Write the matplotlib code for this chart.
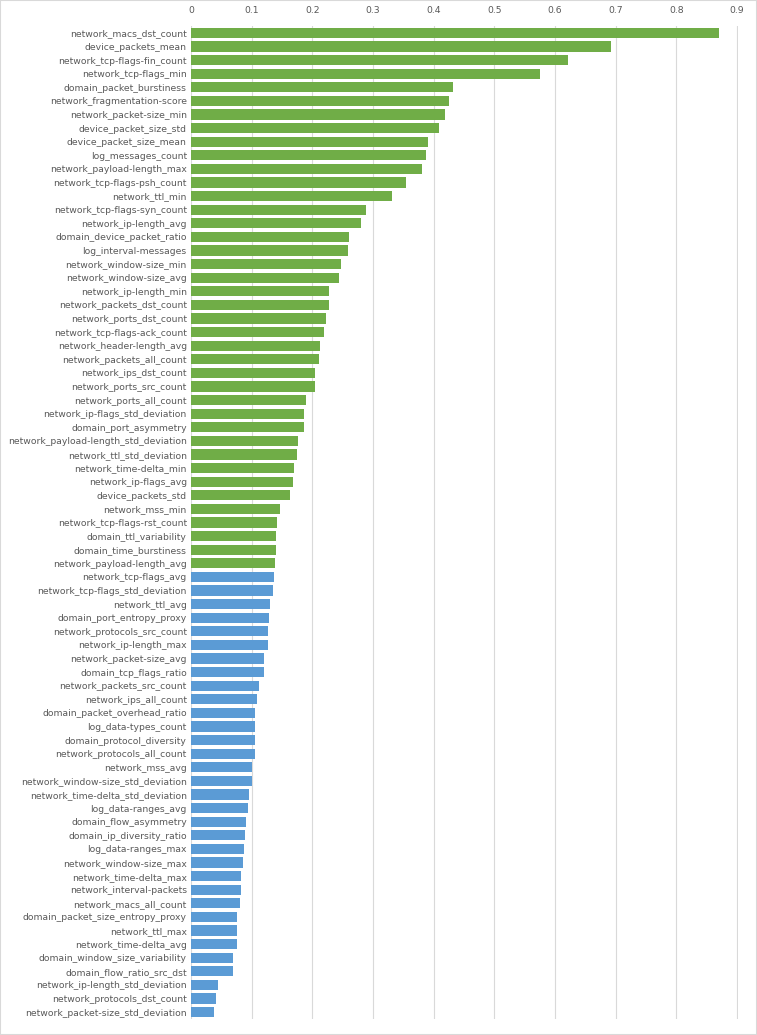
import matplotlib.pyplot as plt

green_labels = [
    "network_macs_dst_count", "device_packets_mean", "network_tcp-flags-fin_count",
    "network_tcp-flags_min", "domain_packet_burstiness", "network_fragmentation-score",
    "network_packet-size_min", "device_packet_size_std", "device_packet_size_mean",
    "log_messages_count", "network_payload-length_max", "network_tcp-flags-psh_count",
    "network_ttl_min", "network_tcp-flags-syn_count", "network_ip-length_avg",
    "domain_device_packet_ratio", "log_interval-messages", "network_window-size_min",
    "network_window-size_avg", "network_ip-length_min", "network_packets_dst_count",
    "network_ports_dst_count", "network_tcp-flags-ack_count", "network_header-length_avg",
    "network_packets_all_count", "network_ips_dst_count", "network_ports_src_count",
    "network_ports_all_count", "network_ip-flags_std_deviation", "domain_port_asymmetry",
    "network_payload-length_std_deviation", "network_ttl_std_deviation",
    "network_time-delta_min", "network_ip-flags_avg", "device_packets_std",
    "network_mss_min", "network_tcp-flags-rst_count", "domain_ttl_variability",
    "domain_time_burstiness", "network_payload-length_avg",
]
green_values = [
    0.870, 0.692, 0.621, 0.575, 0.431, 0.426, 0.418, 0.408, 0.390, 0.387,
    0.381, 0.354, 0.331, 0.289, 0.280, 0.260, 0.259, 0.248, 0.244, 0.228,
    0.228, 0.223, 0.220, 0.213, 0.211, 0.204, 0.204, 0.189, 0.186, 0.186,
    0.176, 0.175, 0.169, 0.168, 0.163, 0.146, 0.142, 0.140, 0.140, 0.139,
]
blue_labels = [
    "network_tcp-flags_avg", "network_tcp-flags_std_deviation", "network_ttl_avg",
    "domain_port_entropy_proxy", "network_protocols_src_count", "network_ip-length_max",
    "network_packet-size_avg", "domain_tcp_flags_ratio", "network_packets_src_count",
    "network_ips_all_count", "domain_packet_overhead_ratio", "log_data-types_count",
    "domain_protocol_diversity", "network_protocols_all_count", "network_mss_avg",
    "network_window-size_std_deviation", "network_time-delta_std_deviation",
    "log_data-ranges_avg", "domain_flow_asymmetry", "domain_ip_diversity_ratio",
    "log_data-ranges_max", "network_window-size_max", "network_time-delta_max",
    "network_interval-packets", "network_macs_all_count", "domain_packet_size_entropy_proxy",
    "network_ttl_max", "network_time-delta_avg", "domain_window_size_variability",
    "domain_flow_ratio_src_dst", "network_ip-length_std_deviation",
    "network_protocols_dst_count", "network_packet-size_std_deviation",
]
blue_values = [
    0.136, 0.135, 0.130, 0.129, 0.127, 0.127, 0.121, 0.120, 0.112, 0.109,
    0.106, 0.106, 0.105, 0.105, 0.101, 0.100, 0.096, 0.094, 0.090, 0.089,
    0.087, 0.086, 0.083, 0.083, 0.080, 0.076, 0.076, 0.076, 0.069, 0.069,
    0.045, 0.042, 0.038,
]

labels = green_labels + blue_labels
values = green_values + blue_values
colors = ["#70ad47"] * len(green_values) + ["#5b9bd5"] * len(blue_values)

fig = plt.figure(figsize=(7.57, 10.35), dpi=100)
ax = fig.add_axes([191 / 757, 16 / 1035, 547 / 757, 993 / 1035])
pos = list(range(len(values)))
ax.barh(pos, values, height=0.75, color=colors, zorder=2)
ax.set_ylim(len(values) - 0.5, -0.5)
ax.set_xlim(0, 0.9015)
ax.set_xticks([i / 10 for i in range(10)])
ax.set_xticklabels(["0"] + [f"{i / 10:g}" for i in range(1, 10)])
ax.xaxis.tick_top()
ax.set_yticks(pos)
ax.set_yticklabels(labels)
ax.tick_params(axis="both", length=0, labelsize=6.7, colors="#595959", pad=3)
ax.tick_params(axis="x", pad=8)
ax.grid(axis="x", color="#d9d9d9", linewidth=0.8, zorder=0)
for s in ax.spines.values():
    s.set_visible(False)
fig.patches.append(plt.Rectangle((0, 0), 1, 1, transform=fig.transFigure,
                                 fill=False, edgecolor="#d9d9d9", linewidth=1.5))
fig.savefig("out.png", dpi=100)
